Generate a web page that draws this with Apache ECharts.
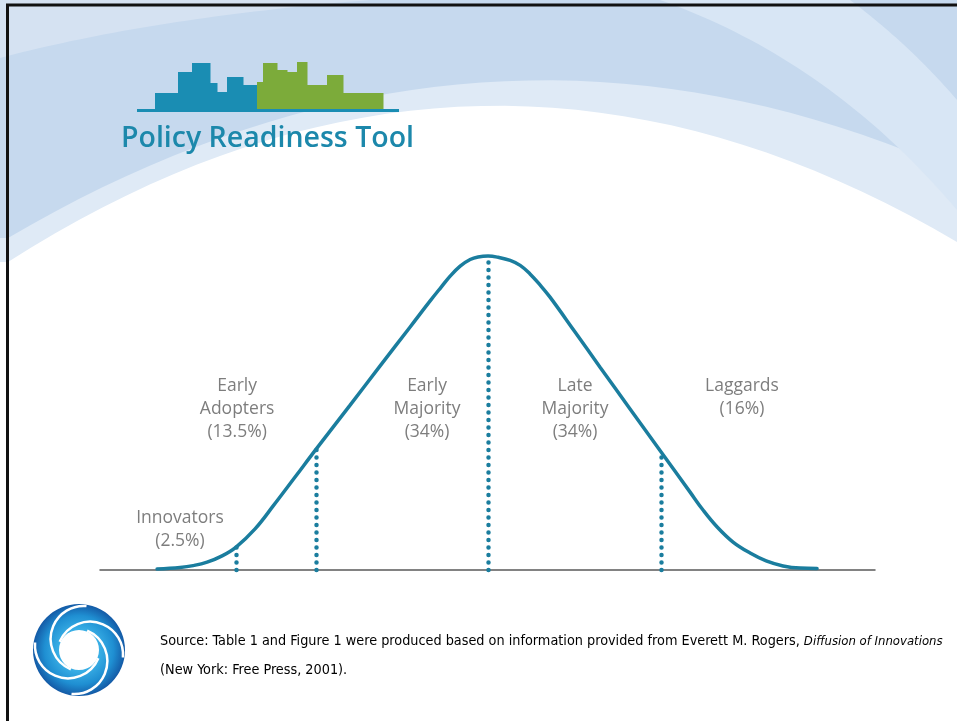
<!DOCTYPE html>
<html>
<head>
<meta charset="utf-8">
<title>Diffusion of Innovations</title>
<script src="https://cdn.jsdelivr.net/npm/echarts@6/dist/echarts.min.js"></script>
<style>
  html, body { margin: 0; padding: 0; background: #fff; }
  #chart { width: 957px; height: 721px; }
</style>
</head>
<body>
<div id="chart"></div>
<script>
// adoption curve, x in standard deviations from the mean, y relative to the peak
const curveX = [-1.919, -1.786, -1.710, -1.629, -1.542, -1.461, -1.351, -1.246, -1.119, -0.997, -0.800, -0.626, -0.452,
  -0.336, -0.272, -0.220, -0.162, -0.104, -0.058, 0, 0.058, 0.128, 0.186, 0.243, 0.301, 0.359, 0.504, 0.649, 0.823,
  1.003, 1.171, 1.246, 1.328, 1.420, 1.519, 1.612, 1.710, 1.809, 1.907]
const curveY = [0.003, 0.008, 0.014, 0.025, 0.045, 0.073, 0.131, 0.204, 0.296, 0.385, 0.525, 0.650, 0.774,
  0.857, 0.901, 0.936, 0.968, 0.989, 0.997, 1.0, 0.996, 0.986, 0.970, 0.943, 0.908, 0.869, 0.758, 0.646, 0.513,
  0.376, 0.248, 0.191, 0.137, 0.089, 0.054, 0.029, 0.013, 0.006, 0.005]

// category boundaries (dotted lines)
const dividerX = [-1.461, -0.997, 0, 1.003]
const dividerY = [0.073, 0.39, 1.0, 0.376]

const groupNames = ['Innovators', 'Early\nAdopters', 'Early\nMajority', 'Late\nMajority', 'Laggards']
const groupShares = ['2.5%', '13.5%', '34%', '34%', '16%']

// where each group label sits, in chart coordinates
const labelAnchors = [[-1.786, 0.129], [-1.455, 0.513], [-0.354, 0.513], [0.504, 0.513], [1.472, 0.549]]

const TEAL = '#1a7d9e'

const chart = echarts.init(document.getElementById('chart'))

// ---- slide decoration ----
// quadratic curve sampled into points, for the background swooshes
function quad (p0, c, p1) {
  const pts = []
  for (let i = 0; i <= 40; i++) {
    const t = i / 40
    const u = 1 - t
    pts.push([u * u * p0[0] + 2 * u * t * c[0] + t * t * p1[0], u * u * p0[1] + 2 * u * t * c[1] + t * t * p1[1]])
  }
  return pts
}
function swoosh (head, curve, fill, z) {
  return { type: 'polygon', z: z, shape: { points: head.concat(curve) }, style: { fill: fill } }
}

const skylineBlue = [[155, 93], [178, 72], [192, 63], [210, 83], [217, 92], [227, 77], [243, 85], [258, 0]]
const skylineGreen = [[257, 82], [263, 63], [277, 70], [287, 72], [297, 62], [307, 85], [327, 75], [343, 93], [383, 0]]
function skyline (steps, color) {
  const out = []
  for (let i = 0; i < steps.length - 1; i++) {
    out.push({
      type: 'rect',
      z: 1,
      shape: { x: steps[i][0], y: steps[i][1], width: steps[i + 1][0] - steps[i][0] + 0.5, height: 109 - steps[i][1] },
      style: { fill: color }
    })
  }
  return out
}

const swirl = []
const cx = 79
const cy = 650
swirl.push({
  type: 'ring',
  z: 1,
  shape: { cx: cx, cy: cy, r: 46, r0: 20 },
  style: {
    fill: new echarts.graphic.RadialGradient(0.5, 0.5, 0.5, [
      { offset: 0.4, color: '#3db3e8' },
      { offset: 0.75, color: '#1f8fd2' },
      { offset: 1, color: '#145aa6' }
    ])
  }
})
for (let k = 0; k < 4; k++) {
  const a = k * Math.PI / 2 + 0.4
  swirl.push({
    type: 'arc',
    z: 2,
    shape: {
      cx: cx + 12 * Math.cos(a),
      cy: cy + 12 * Math.sin(a),
      r: 33,
      startAngle: a + Math.PI,
      endAngle: a + Math.PI * 1.9,
      clockwise: true
    },
    style: { stroke: '#fff', lineWidth: 2.5, fill: null }
  })
}

const srcFont = '"Liberation Sans Narrow", "DejaVu Sans Condensed", sans-serif'

const graphics = [
  swoosh([[0, 0], [957, 0]], quad([957, 242], [480, -40], [8, 262]).concat([[0, 262]]), '#dfeaf6', -9),
  swoosh([[0, 0], [957, 0]], quad([957, 172], [480, -40], [8, 238]).concat([[0, 238]]), '#c6d9ee', -8),
  swoosh([[0, 0], [370, 0]], quad([370, 0], [150, 18], [0, 58]), '#d5e2f2', -7),
  swoosh([[660, 0], [850, 0]], quad([850, 0], [910, 45], [957, 100]).concat(quad([957, 210], [830, 60], [660, 0])), '#d8e6f5', -7),
  ...skyline(skylineBlue, '#1a8db3'),
  ...skyline(skylineGreen, '#7cab3a'),
  { type: 'rect', z: 1, shape: { x: 137, y: 109, width: 262, height: 3 }, style: { fill: '#1a8db3' } },
  {
    type: 'text',
    z: 1,
    x: 121,
    y: 139,
    style: {
      text: 'Policy Readiness Tool',
      fill: '#1c88ab',
      font: '600 28.5px "Open Sans", sans-serif',
      textVerticalAlign: 'middle'
    }
  },
  ...swirl,
  {
    type: 'text',
    z: 1,
    x: 160,
    y: 627,
    style: {
      text: '{a|Source: Table 1 and Figure 1 were produced based on information provided from Everett M. Rogers, }{i|Diffusion of Innovations}\n{a|(New York: Free Press, 2001).}',
      rich: {
        a: { fontSize: 14.3, fontFamily: srcFont, color: '#6e6e6e', lineHeight: 29 },
        i: { fontSize: 13, fontStyle: 'italic', fontFamily: srcFont, color: '#6e6e6e', lineHeight: 29 }
      }
    }
  },
  { type: 'line', z: 5, shape: { x1: 6, y1: 5, x2: 957, y2: 5 }, style: { stroke: '#111', lineWidth: 3 } },
  { type: 'line', z: 5, shape: { x1: 7.5, y1: 4, x2: 7.5, y2: 721 }, style: { stroke: '#111', lineWidth: 3 } }
]

const option = {
  backgroundColor: '#fff',
  animation: false,
  graphic: graphics,
  grid: {
    left: 100,
    right: 82,
    top: 224.6,
    bottom: 151
  },
  xAxis: {
    type: 'value',
    min: -2.25,
    max: 2.243,
    z: 3,
    axisLine: { show: true, onZero: false, lineStyle: { color: '#5a5a5a', width: 1.5 } },
    axisTick: { show: false },
    axisLabel: { show: false },
    splitLine: { show: false }
  },
  yAxis: {
    type: 'value',
    min: 0,
    max: 1.1,
    show: false,
    splitLine: { show: false }
  },
  series: [
    {
      type: 'line',
      data: curveX.map((x, i) => [x, curveY[i]]),
      smooth: 0.4,
      showSymbol: false,
      clip: false,
      z: 4,
      lineStyle: { color: TEAL, width: 3.5, cap: 'round' },
      markLine: {
        silent: true,
        symbol: ['none', 'none'],
        label: { show: false },
        lineStyle: { color: TEAL, width: 4.5, type: [0.1, 7.4], cap: 'round' },
        data: dividerX.map((x, i) => [{ coord: [x, 0] }, { coord: [x, dividerY[i]] }])
      }
    },
    {
      type: 'scatter',
      symbolSize: 1,
      itemStyle: { color: 'rgba(0,0,0,0)' },
      z: 3,
      data: labelAnchors.map((p, i) => ({ value: p, name: groupNames[i] + '\n(' + groupShares[i] + ')' })),
      label: {
        show: true,
        position: 'inside',
        formatter: (p) => p.name,
        color: '#5c5c5c',
        fontFamily: '"Open Sans", sans-serif',
        fontWeight: 400,
        fontSize: 17.5,
        lineHeight: 23,
        align: 'center',
        verticalAlign: 'middle'
      }
    }
  ]
}

chart.setOption(option)
</script>
</body>
</html>
